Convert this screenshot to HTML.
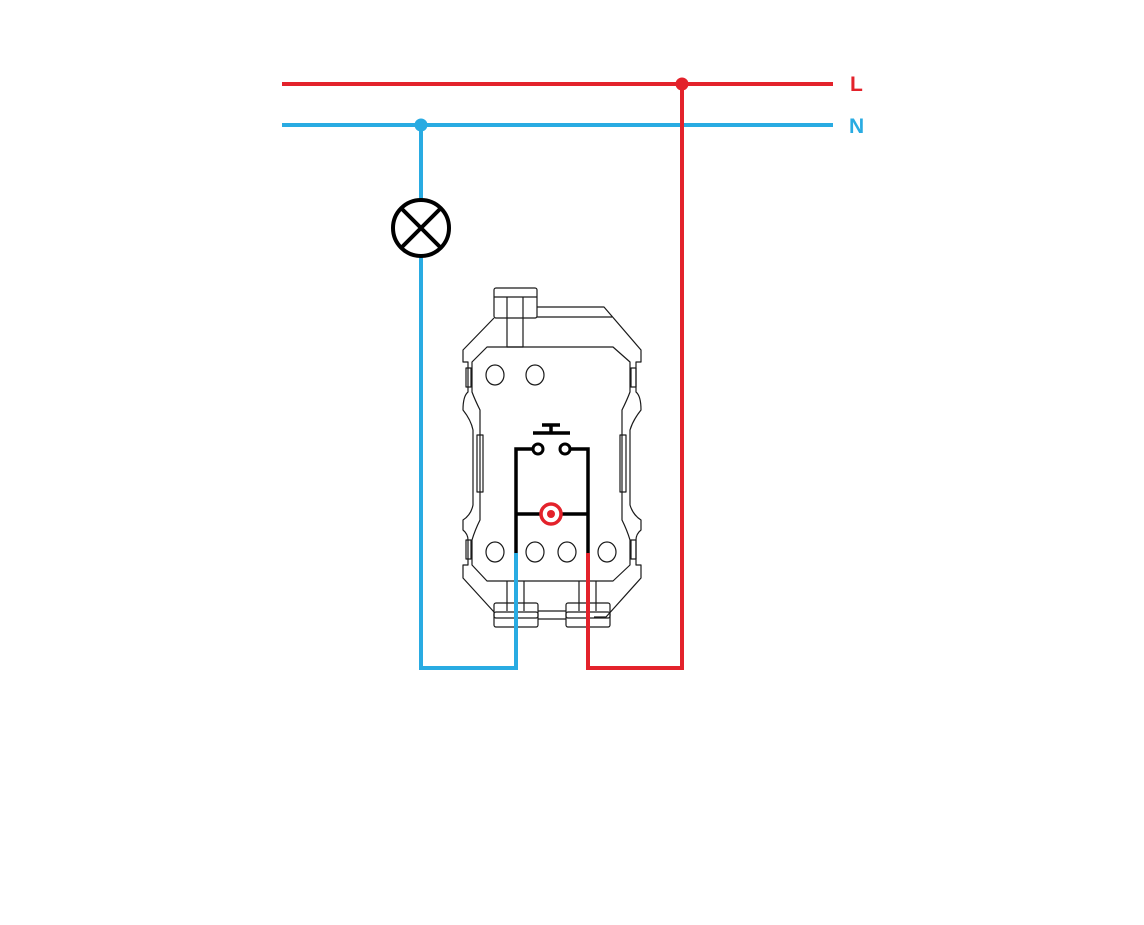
<!DOCTYPE html>
<html><head><meta charset="utf-8"><style>html,body{margin:0;padding:0;background:#fff;}svg{display:block}</style></head>
<body>
<svg width="1144" height="925" viewBox="0 0 1144 925" xmlns="http://www.w3.org/2000/svg">
<g fill="none" stroke="#1a1a1a" stroke-width="1.2" stroke-linejoin="round">
  <path d="M537 307 L604 307 L641 350 L641 362 L636 362 L636 392 Q641 396 641 410 Q633 420 630 430 L630 505 Q633 515 641 520 L641 530 Q636 534 636 540 L636 565 L641 565 L641 578 L606 617 L594 617"/>
  <path d="M494 318 L463 350 L463 362 L468 362 L468 392 Q463 396 463 410 Q471 420 473 430 L473 505 Q471 515 463 520 L463 530 Q468 534 468 540 L468 565 L463 565 L463 578 L494 612"/>
  <path d="M537 317 L612 317"/>
  <path d="M487 347 L472 362 L472 392 Q475 400 480 410 L480 520 Q475 530 472 540 L472 565 L487 581 L613 581 L630 565 L630 540 Q627 530 622 520 L622 410 Q627 400 630 392 L630 362 L613 347 Z"/>
  <rect x="494" y="288" width="43" height="30" rx="2"/>
  <path d="M494 297 L537 297"/>
  <path d="M507 297 L507 347 L523 347 L523 297"/>
  <rect x="466" y="368" width="5" height="19"/>
  <rect x="466" y="540" width="5" height="19"/>
  <rect x="631" y="368" width="5" height="19"/>
  <rect x="631" y="540" width="5" height="19"/>
  <rect x="477" y="435" width="6" height="57"/>
  <rect x="620" y="435" width="6" height="57"/>
  <ellipse cx="495" cy="375" rx="9" ry="10"/>
  <ellipse cx="535" cy="375" rx="9" ry="10"/>
  <ellipse cx="495" cy="552" rx="9" ry="10"/>
  <ellipse cx="535" cy="552" rx="9" ry="10"/>
  <ellipse cx="567" cy="552" rx="9" ry="10"/>
  <ellipse cx="607" cy="552" rx="9" ry="10"/>
  <path d="M507 581 L507 611 M524 581 L524 611"/>
  <path d="M579 581 L579 611 M596 581 L596 611"/>
  <rect x="494" y="603" width="22" height="15" rx="2"/>
  <rect x="516" y="603" width="22" height="15" rx="2"/>
  <rect x="494" y="612" width="44" height="15" rx="2"/>
  <rect x="566" y="603" width="22" height="15" rx="2"/>
  <rect x="588" y="603" width="22" height="15" rx="2"/>
  <rect x="566" y="612" width="44" height="15" rx="2"/>
  <path d="M538 611 L566 611 M538 619 L566 619"/>
</g>
<g fill="none" stroke="#000" stroke-width="3.5">
  <path d="M516 553 L516 449 L533 449"/>
  <path d="M588 553 L588 449 L571 449"/>
  <circle cx="538" cy="449" r="5" stroke-width="3"/>
  <circle cx="565" cy="449" r="5" stroke-width="3"/>
  <path d="M533 433 L570 433 M551 433 L551 425 M542 425 L560 425"/>
  <path d="M516 514 L541 514 M561 514 L588 514"/>
</g>
<circle cx="551" cy="514" r="10" fill="#fff" stroke="#e3222b" stroke-width="3.5"/>
<circle cx="551" cy="514" r="4" fill="#e3222b"/>
<path d="M282 84 L833 84" stroke="#e3222b" stroke-width="4" fill="none"/>
<path d="M282 125 L833 125" stroke="#29abe2" stroke-width="4" fill="none"/>
<path d="M682 84 L682 668 L588 668 L588 553" stroke="#e3222b" stroke-width="4" fill="none"/>
<path d="M421 125 L421 668 L516 668 L516 553" stroke="#29abe2" stroke-width="4" fill="none"/>
<circle cx="682" cy="84" r="6.5" fill="#e3222b"/>
<circle cx="421" cy="125" r="6.5" fill="#29abe2"/>
<circle cx="421" cy="228" r="28" fill="#fff" stroke="#000" stroke-width="4"/>
<path d="M401 208 L441 248 M441 208 L401 248" stroke="#000" stroke-width="4"/>
<text x="850" y="91" font-family="Liberation Sans, sans-serif" font-weight="bold" font-size="21" fill="#e3222b">L</text>
<text x="849" y="133" font-family="Liberation Sans, sans-serif" font-weight="bold" font-size="21" fill="#29abe2">N</text>
</svg>
</body></html>
